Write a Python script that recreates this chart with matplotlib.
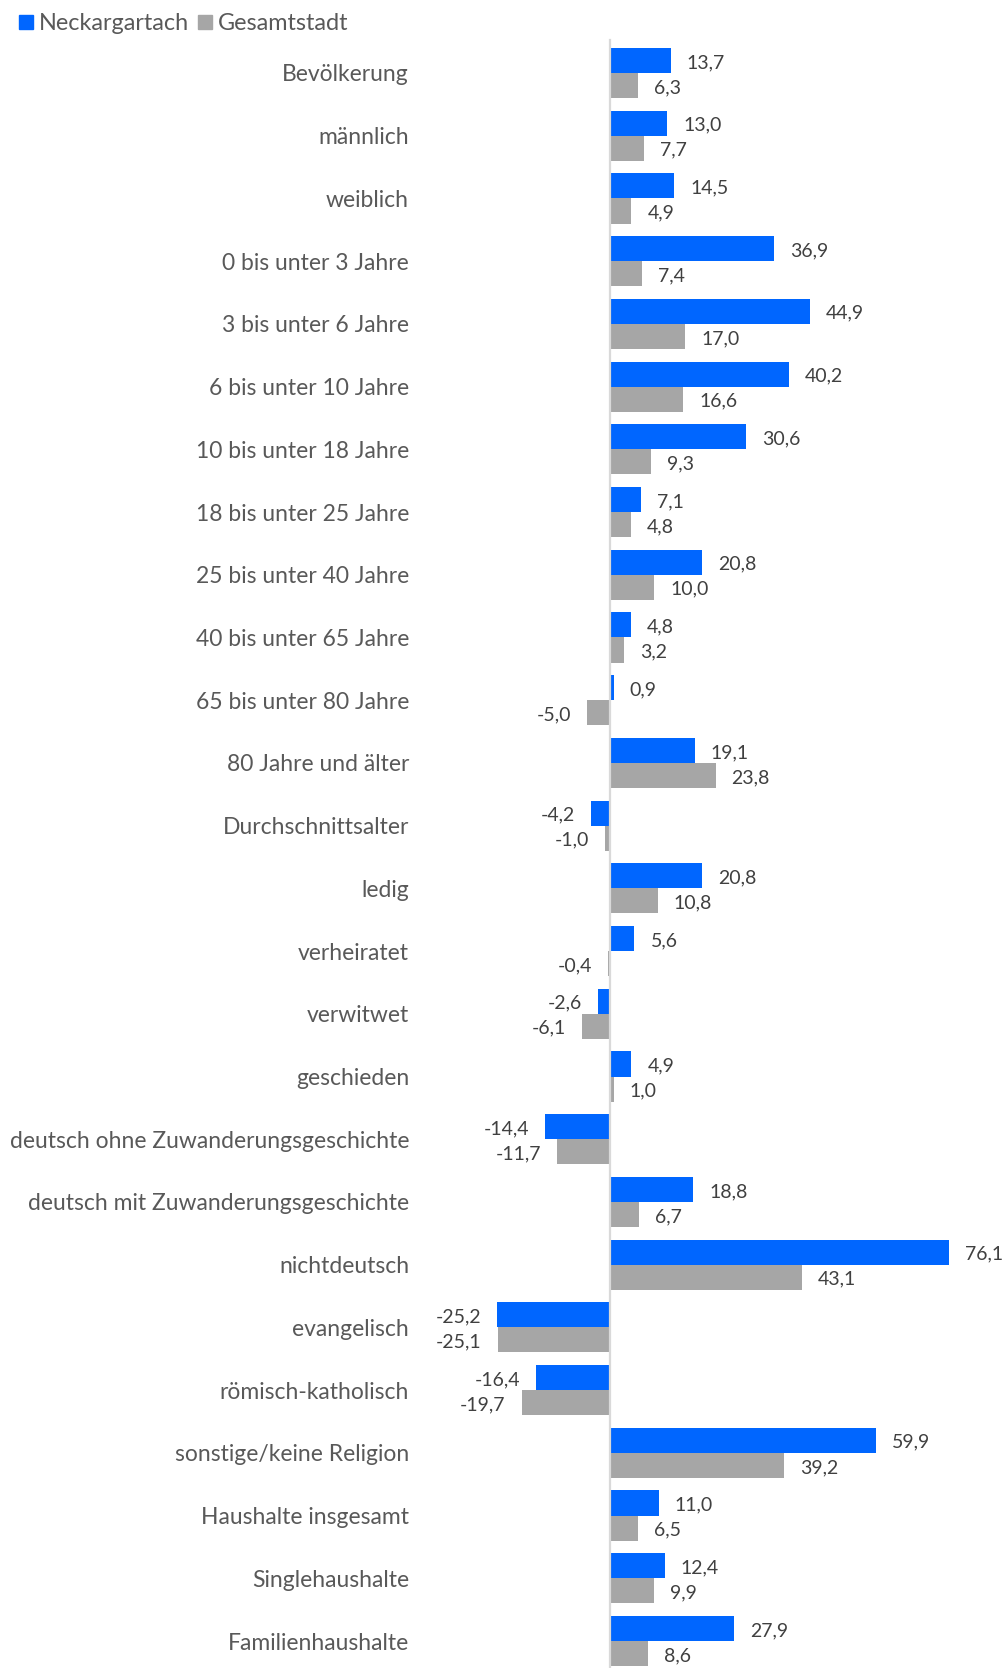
import matplotlib
matplotlib.use("Agg")
import matplotlib.pyplot as plt
from matplotlib.patches import Rectangle
import matplotlib.transforms as mtransforms

categories = ["Bevölkerung", "männlich", "weiblich", "0 bis unter 3 Jahre", "3 bis unter 6 Jahre",
              "6 bis unter 10 Jahre", "10 bis unter 18 Jahre", "18 bis unter 25 Jahre",
              "25 bis unter 40 Jahre", "40 bis unter 65 Jahre", "65 bis unter 80 Jahre",
              "80 Jahre und älter", "Durchschnittsalter", "ledig", "verheiratet", "verwitwet",
              "geschieden", "deutsch ohne Zuwanderungsgeschichte", "deutsch mit Zuwanderungsgeschichte",
              "nichtdeutsch", "evangelisch", "römisch-katholisch", "sonstige/keine Religion",
              "Haushalte insgesamt", "Singlehaushalte", "Familienhaushalte"]
neckargartach = [13.7, 13.0, 14.5, 36.9, 44.9, 40.2, 30.6, 7.1, 20.8, 4.8, 0.9, 19.1, -4.2,
                 20.8, 5.6, -2.6, 4.9, -14.4, 18.8, 76.1, -25.2, -16.4, 59.9, 11.0, 12.4, 27.9]
gesamtstadt = [6.3, 7.7, 4.9, 7.4, 17.0, 16.6, 9.3, 4.8, 10.0, 3.2, -5.0, 23.8, -1.0,
               10.8, -0.4, -6.1, 1.0, -11.7, 6.7, 43.1, -25.1, -19.7, 39.2, 6.5, 9.9, 8.6]
series_names = ["Neckargartach", "Gesamtstadt"]

BLUE = "#0066FF"
GRAY = "#A6A6A6"
LABEL_C = "#595959"
VAL_C = "#404040"
FONT = ["Lato", "DejaVu Sans"]

W, H = 1005, 1668
fig = plt.figure(figsize=(W / 100, H / 100), dpi=100)
ax = fig.add_axes([0, 0, 1, 1])
ax.axis("off")

x0, pxu = 609.5, 4.455
ax.set_xlim(-x0 / pxu, (W - x0) / pxu)
y0, pyc = 73.0, 62.72
ax.set_ylim((H - y0) / pyc, -y0 / pyc)
dy = 2.0 / pyc

n = len(categories)
bh = 0.4
for i in range(n):
    for val, off, col in ((neckargartach[i], -0.2, BLUE), (gesamtstadt[i], 0.2, GRAY)):
        ax.barh(i + off, val, height=bh, color=col, edgecolor="none", zorder=2)
        txt = f"{val:.1f}".replace(".", ",")
        gap = 16 / pxu
        if val >= 0:
            ax.text(val + gap, i + off + dy, txt, ha="left", va="center", fontsize=14,
                    color=VAL_C, family=FONT)
        else:
            ax.text(val - gap, i + off + dy, txt, ha="right", va="center", fontsize=14,
                    color=VAL_C, family=FONT)

# category labels
trans = mtransforms.blended_transform_factory(fig.transFigure, ax.transData)
for i, c in enumerate(categories):
    ax.text(409 / W, i + dy, c, transform=trans, ha="right", va="center", fontsize=16.5,
            color=LABEL_C, family=FONT)

# zero axis line
ax.plot([0, 0], [(40 - y0) / pyc, (H - y0) / pyc], color="#D9D9D9", lw=1.6, zorder=3)

# legend
for xs, col, name in ((19, BLUE, series_names[0]), (198, GRAY, series_names[1])):
    fig.patches.append(Rectangle((xs / W, 1 - 29 / H), 14 / W, 14 / H, transform=fig.transFigure,
                                 color=col))
    fig.text((xs + 20) / W, 1 - 23 / H, name, ha="left", va="center", fontsize=16.8,
             color=LABEL_C, family=FONT)

fig.savefig("out.png", dpi=100)
